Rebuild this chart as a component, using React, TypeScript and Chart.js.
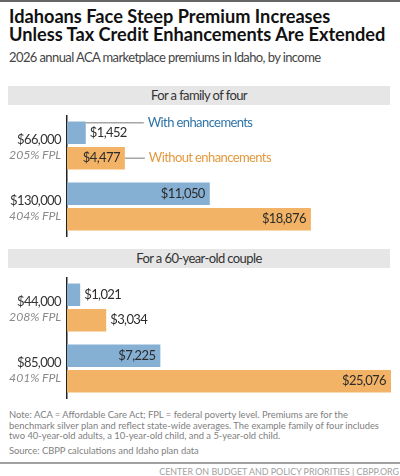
import React, { useEffect, useRef } from "react";
import { Chart, registerables } from "chart.js";

Chart.register(...registerables);

const FONT = "Lato, sans-serif";
const BLUE = "#85AFD3";
const ORANGE = "#F2B366";
// the original face is condensed, Lato gets there with tighter spacing
const TIGHT = "-0.6px";

const seriesLabels = ["With enhancements", "Without enhancements"];

const familyIncomes = ["$66,000", "$130,000"];
const familyFpl = ["205% FPL", "404% FPL"];
const familyWith = [1452, 11050];
const familyWithout = [4477, 18876];

const coupleIncomes = ["$44,000", "$85,000"];
const coupleFpl = ["208% FPL", "401% FPL"];
const coupleWith = [1021, 7225];
const coupleWithout = [3034, 25076];

const axisMax = 25076;

// value labels, FPL lines and the leader lines for the direct legend
const annotations = (fpl: string[], showLegend: boolean) => ({
  id: "annotations",
  beforeDraw(chart: any) {
    chart.ctx.letterSpacing = TIGHT;
  },
  afterDatasetsDraw(chart: any) {
    const { ctx } = chart;
    const yScale = chart.scales.y;

    ctx.save();
    ctx.textBaseline = "middle";

    // FPL line under each income
    ctx.letterSpacing = "-0.1px";
    ctx.font = `italic 12.3px ${FONT}`;
    ctx.fillStyle = "#8a8a8a";
    ctx.textAlign = "right";
    fpl.forEach((label, i) => {
      ctx.fillText(label, yScale.right - 6, yScale.getPixelForTick(i) + 10);
    });

    // value labels: inside the bar when there is room
    ctx.letterSpacing = TIGHT;
    ctx.font = `13px ${FONT}`;
    chart.data.datasets.forEach((ds: any, d: number) => {
      chart.getDatasetMeta(d).data.forEach((bar: any, i: number) => {
        const value = ds.data[i];
        const text = "$" + value.toLocaleString("en-US");
        ctx.fillStyle = "#2b2b2b";
        if (value > 4000) {
          ctx.textAlign = "right";
          ctx.fillText(text, bar.x - 5, bar.y);
        } else {
          ctx.textAlign = "left";
          ctx.fillText(text, bar.x + 4, bar.y);
        }
      });
    });

    if (showLegend) {
      const top = chart.getDatasetMeta(0).data[0];
      const bottom = chart.getDatasetMeta(1).data[0];

      ctx.strokeStyle = "#a6a6a6";
      ctx.lineWidth = 1.5;
      ctx.beginPath();
      ctx.moveTo(top.x, top.y - 10);
      ctx.lineTo(top.x + 58, top.y - 10);
      ctx.moveTo(bottom.x, bottom.y);
      ctx.lineTo(bottom.x + 20, bottom.y);
      ctx.stroke();

      ctx.font = `13px ${FONT}`;
      ctx.textAlign = "left";
      ctx.fillStyle = "#2f74a8";
      ctx.fillText(seriesLabels[0], top.x + 62, top.y - 10);
      ctx.fillStyle = "#E39A3F";
      ctx.fillText(seriesLabels[1], bottom.x + 24, bottom.y);
    }
    ctx.restore();
  },
});

interface PanelProps {
  incomes: string[];
  fpl: string[];
  withEnh: number[];
  withoutEnh: number[];
  top: number;
  showLegend?: boolean;
}

const BarPanel: React.FC<PanelProps> = ({ incomes, fpl, withEnh, withoutEnh, top, showLegend = false }) => {
  const canvasRef = useRef<HTMLCanvasElement>(null);

  useEffect(() => {
    if (!canvasRef.current) return;
    const chart = new Chart(canvasRef.current, {
      type: "bar",
      data: {
        labels: incomes,
        datasets: [
          { label: seriesLabels[0], data: withEnh, backgroundColor: BLUE },
          { label: seriesLabels[1], data: withoutEnh, backgroundColor: ORANGE },
        ],
      },
      options: {
        indexAxis: "y",
        animation: false,
        responsive: false,
        maintainAspectRatio: false,
        layout: { padding: { right: 9 } },
        datasets: { bar: { categoryPercentage: 0.836, barPercentage: 0.882 } },
        plugins: { legend: { display: false }, title: { display: false }, tooltip: { enabled: false } },
        scales: {
          x: { display: false, min: 0, max: axisMax },
          y: {
            // fixed gutter, and no room kept for the tick labels above and below
            afterFit: (scale: any) => {
              scale.width = 67;
              scale.paddingTop = 0;
              scale.paddingBottom = 0;
            },
            grid: { display: false, drawTicks: false },
            border: { display: true, color: "#222222", width: 1.5 },
            ticks: {
              color: "#333333",
              font: { family: FONT, size: 13 },
              padding: 6,
              labelOffset: -5.5,
            },
          },
        },
      },
      plugins: [annotations(fpl, showLegend)],
    } as any);

    return () => chart.destroy();
  }, [incomes, fpl, withEnh, withoutEnh, showLegend]);

  return (
    <canvas
      ref={canvasRef}
      width={400}
      height={122}
      style={{ position: "absolute", left: 0, top, width: 400, height: 122 }}
    />
  );
};

const text = (top: number, left: number, size: number, color: string): React.CSSProperties => ({
  position: "absolute",
  top,
  left,
  fontSize: size,
  color,
  whiteSpace: "nowrap",
});

const band = (top: number): React.CSSProperties => ({
  position: "absolute",
  top,
  left: 8,
  width: 382,
  height: 19,
  lineHeight: "19px",
  background: "#e6e6e6",
  color: "#333",
  fontSize: 13,
  letterSpacing: TIGHT,
  textAlign: "center",
});

export default function App() {
  useEffect(() => {
    document.body.style.margin = "0";
  }, []);

  return (
    <div style={{ position: "relative", width: 400, height: 476, background: "#fff", fontFamily: FONT, overflow: "hidden" }}>
      <div style={{ position: "absolute", left: 0, top: 0, width: 400, height: 2, background: "#666" }} />
      <div style={{ ...text(7, 9, 18.2, "#111"), fontWeight: 700, lineHeight: "18.3px" }}>
        Idahoans Face Steep Premium Increases
        <br />
        Unless Tax Credit Enhancements Are Extended
      </div>
      <div style={{ ...text(49, 9, 13, "#444"), letterSpacing: TIGHT }}>2026 annual ACA marketplace premiums in Idaho, by income</div>

      <div style={band(86)}>For a family of four</div>
      <BarPanel incomes={familyIncomes} fpl={familyFpl} withEnh={familyWith} withoutEnh={familyWithout} top={115} showLegend />

      <div style={band(249)}>For a 60-year-old couple</div>
      <BarPanel incomes={coupleIncomes} fpl={coupleFpl} withEnh={coupleWith} withoutEnh={coupleWithout} top={277} />

      <div style={{ ...text(410, 9, 9.4, "#808080"), lineHeight: "10.7px" }}>
        Note: ACA = Affordable Care Act; FPL = federal poverty level. Premiums are for the
        <br />
        benchmark silver plan and reflect state-wide averages. The example family of four includes
        <br />
        two 40-year-old adults, a 10-year-old child, and a 5-year-old child.
      </div>
      <div style={text(445, 9, 9.4, "#808080")}>Source: CBPP calculations and Idaho plan data</div>

      <div style={{ position: "absolute", left: 0, top: 462, width: 400, height: 1.5, background: "#a0a0a0" }} />
      <div style={{ ...text(466, 0, 8.9, "#a0a0a0"), left: "auto", right: 1 }}>
        CENTER ON BUDGET AND POLICY PRIORITIES | CBPP.ORG
      </div>
    </div>
  );
}
